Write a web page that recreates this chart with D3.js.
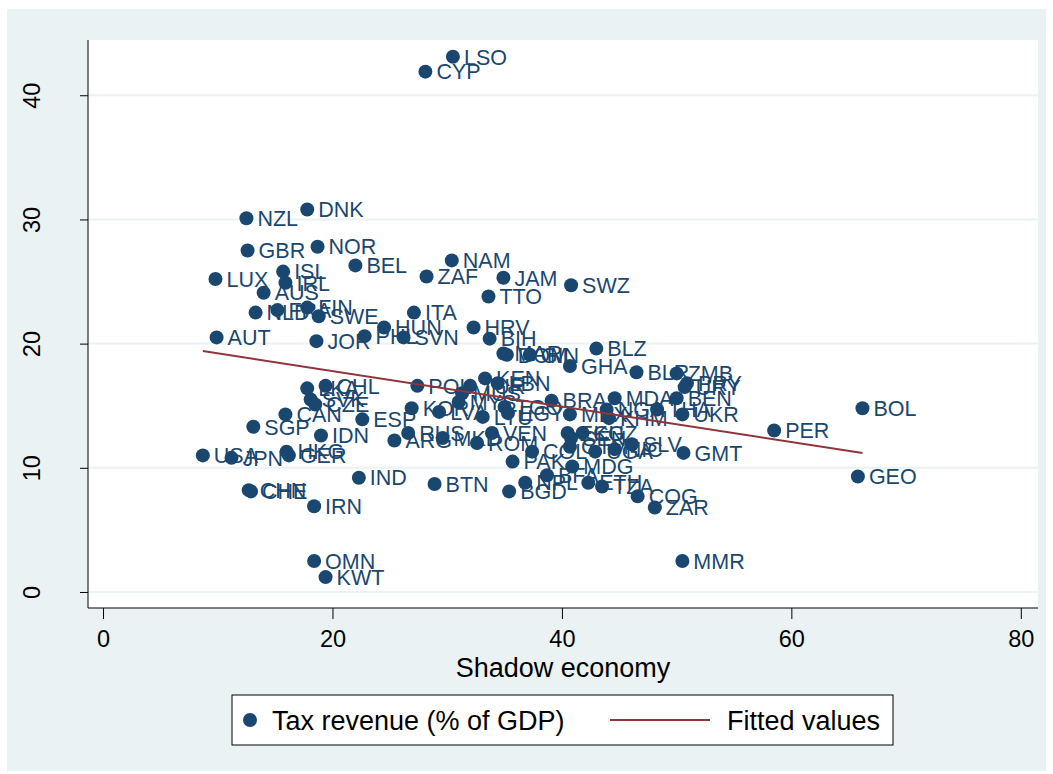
<!DOCTYPE html>
<html>
<head>
<meta charset="utf-8">
<script src="https://cdn.jsdelivr.net/npm/d3@7"></script>
<style>
  html, body { margin: 0; padding: 0; background: #ffffff; }
  svg { display: block; font-family: "Liberation Sans", Arial, Helvetica, sans-serif; }
</style>
</head>
<body>
<svg id="chart" width="1053" height="774"></svg>
<script>
// Country codes, shadow economy (% of GDP) and tax revenue (% of GDP)
const countries = ["LSO","CYP","DNK","NZL","GBR","NOR","BEL","NAM","ZAF","JAM","SWZ","TTO","ISL","LUX","IRL","AUS","NLD","FRA","FIN","SWE","AUT","JOR","PHL","HUN","SVN","ITA","HRV","BIH","MAR","DOM","GIN","GHA","BLZ","BLR","ZMB","PRY","URY","BEN","MDA","THA","UKR","BRA","MEX","NGA","KHM","PER","BOL","GEO","GMT","SLV","UGA","NIC","KGZ","ECU","SEN","GTM","COL","PAK","MDG","BFA","NPL","BGD","ETH","TZA","COG","ZAR","MMR","OMN","KWT","BTN","IND","IRN","CHN","CHE","USA","JPN","HKG","GER","SGP","IDN","CAN","SVK","CZE","LKA","CHL","ESP","POL","KOR","LVA","RUS","ARG","MKD","ROM","VEN","KEN","LBN","TUR","MUS","MYS","LTU","TGO","EGY"];
const shadowEconomy = [30.5,28.1,17.8,12.5,12.6,18.7,22.0,30.4,28.2,34.9,40.8,33.6,15.7,9.8,15.9,14.0,13.3,15.2,17.8,18.8,9.9,18.6,22.8,24.5,26.2,27.1,32.3,33.7,34.9,35.2,37.2,40.7,43.0,46.5,50.0,50.9,50.7,50.0,44.6,48.3,50.5,39.1,40.7,43.9,44.1,58.5,66.2,65.8,50.6,46.1,42.9,44.6,41.8,40.5,40.8,40.7,37.4,35.7,40.9,38.7,36.8,35.4,42.3,43.5,46.6,48.1,50.5,18.4,19.4,28.9,22.3,18.4,12.7,12.9,8.7,11.2,16.0,16.2,13.1,19.0,15.9,18.1,18.5,17.8,19.4,22.6,27.4,26.9,29.3,26.6,25.4,29.6,32.6,33.9,33.3,34.4,32.0,31.3,31.0,33.1,35.0,35.3];
const taxRevenue = [43.1,41.9,30.8,30.1,27.5,27.8,26.3,26.7,25.4,25.3,24.7,23.8,25.8,25.2,24.9,24.1,22.5,22.7,22.9,22.2,20.5,20.2,20.6,21.3,20.5,22.5,21.3,20.4,19.2,19.1,19.1,18.2,19.6,17.7,17.6,16.8,16.5,15.6,15.6,14.7,14.3,15.4,14.3,14.7,14.0,13.0,14.8,9.3,11.2,11.9,11.3,11.5,12.8,12.8,12.4,11.7,11.3,10.5,10.1,9.4,8.8,8.1,8.8,8.5,7.7,6.8,2.5,2.5,1.2,8.7,9.2,6.9,8.2,8.1,11.0,10.8,11.3,11.0,13.3,12.6,14.3,15.5,15.1,16.4,16.6,13.9,16.6,14.8,14.5,12.8,12.2,12.4,12.0,12.8,17.2,16.8,16.6,16.0,15.3,14.1,14.9,14.4];

// Linear fit, evaluated at the smallest and largest shadow economy values
const fitX = [8.7, 66.2];
const fitY = [19.4, 11.2];

const xTicks = [0, 20, 40, 60, 80];
const yTicks = [0, 10, 20, 30, 40];
const xTitle = "Shadow economy";
const legendLabels = ["Tax revenue (% of GDP)", "Fitted values"];

const navy = "#1a476f";
const maroon = "#90353b";
const bgColor = "#eaf2f3";

const svg = d3.select("#chart");

// graph region
svg.append("rect").attr("x", 7).attr("y", 9).attr("width", 1039).attr("height", 762)
  .attr("fill", bgColor);

// plot region
const plot = { left: 88, right: 1038, top: 40, bottom: 608 };
svg.append("rect").attr("x", plot.left).attr("y", plot.top)
  .attr("width", plot.right - plot.left).attr("height", plot.bottom - plot.top)
  .attr("fill", "#ffffff");

const x = d3.scaleLinear().domain([-1.31, 81.5]).range([plot.left, plot.right]);
const y = d3.scaleLinear().domain([-1.29, 44.45]).range([plot.bottom, plot.top]);

// horizontal grid
svg.append("g").selectAll("line").data(yTicks).join("line")
  .attr("x1", plot.left).attr("x2", plot.right)
  .attr("y1", d => y(d)).attr("y2", d => y(d))
  .attr("stroke", bgColor).attr("stroke-width", 2);

// y axis
const yAxis = svg.append("g").attr("transform", `translate(${plot.left},0)`)
  .call(d3.axisLeft(y).tickValues(yTicks).tickSize(8).tickPadding(14).tickFormat(d3.format("d")));
yAxis.select(".domain").attr("stroke", "#000").attr("stroke-width", 1).attr("d", `M0,${plot.top}V${plot.bottom}`);
yAxis.selectAll(".tick line").attr("stroke", "#000");
yAxis.selectAll(".tick text")
  .attr("font-size", 23.5).attr("fill", "#000")
  .attr("text-anchor", "middle")
  .attr("transform", "rotate(-90)")
  .attr("x", 0).attr("y", -56).attr("dy", "0.35em");

// x axis
const xAxis = svg.append("g").attr("transform", `translate(0,${plot.bottom})`)
  .call(d3.axisBottom(x).tickValues(xTicks).tickSize(11).tickPadding(11).tickFormat(d3.format("d")));
xAxis.select(".domain").attr("stroke", "#000").attr("stroke-width", 1).attr("d", `M${plot.left},0H${plot.right}`);
xAxis.selectAll(".tick line").attr("stroke", "#000");
xAxis.selectAll(".tick text").attr("font-size", 23.5).attr("fill", "#000");

svg.append("text").attr("x", (plot.left + plot.right) / 2).attr("y", 677)
  .attr("text-anchor", "middle").attr("font-size", 27).attr("fill", "#000")
  .text(xTitle);

// scatter points and country labels
const pts = countries.map((c, i) => ({ c, sx: shadowEconomy[i], ty: taxRevenue[i] }));
const g = svg.append("g");
g.selectAll("circle").data(pts).join("circle")
  .attr("cx", d => x(d.sx)).attr("cy", d => y(d.ty)).attr("r", 7)
  .attr("fill", navy);
g.selectAll("text").data(pts).join("text")
  .attr("x", d => x(d.sx) + 11).attr("y", d => y(d.ty)).attr("dy", "0.36em")
  .attr("font-size", 21.5).attr("fill", navy)
  .text(d => d.c);

// fitted line
svg.append("path")
  .datum(fitX.map((v, i) => [v, fitY[i]]))
  .attr("d", d3.line().x(d => x(d[0])).y(d => y(d[1])))
  .attr("fill", "none").attr("stroke", maroon).attr("stroke-width", 2);

// legend
const lg = svg.append("g");
lg.append("rect").attr("x", 232).attr("y", 695).attr("width", 661).attr("height", 50)
  .attr("fill", "#fff").attr("stroke", "#000").attr("stroke-width", 1);
lg.append("circle").attr("cx", 250).attr("cy", 720).attr("r", 7).attr("fill", navy);
lg.append("text").attr("x", 272).attr("y", 720).attr("dy", "0.36em")
  .attr("font-size", 27).attr("fill", "#000").text(legendLabels[0]);
lg.append("line").attr("x1", 610).attr("x2", 710).attr("y1", 720).attr("y2", 720)
  .attr("stroke", maroon).attr("stroke-width", 2);
lg.append("text").attr("x", 727).attr("y", 720).attr("dy", "0.36em")
  .attr("font-size", 27).attr("fill", "#000").text(legendLabels[1]);
</script>
</body>
</html>
